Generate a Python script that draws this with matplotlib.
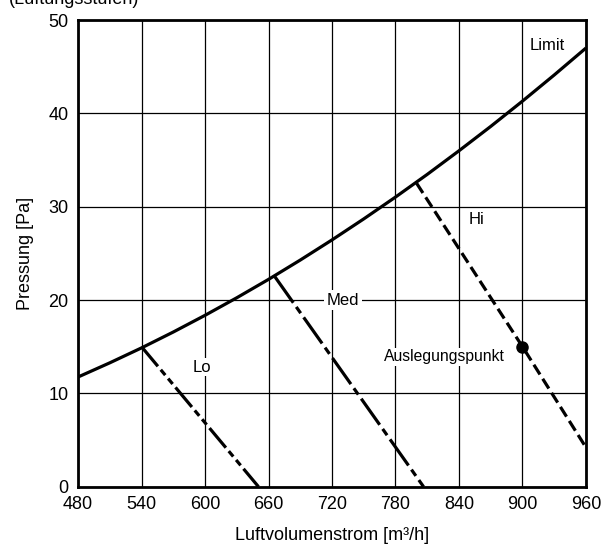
import matplotlib
matplotlib.use("Agg")
import matplotlib.pyplot as plt

plt.rcParams['font.family'] = ['Liberation Sans', 'DejaVu Sans']

# Limit curve (airflow m³/h, pressure Pa)
limit_q = [480, 510, 540, 570, 600, 630, 660, 690, 720, 750, 780, 810, 840, 870, 900, 930, 960]
limit_p = [11.75, 13.27, 14.87, 16.57, 18.36, 20.24, 22.21, 24.28, 26.44, 28.69,
           31.03, 33.46, 35.99, 38.6, 41.31, 44.11, 47.0]

# Fan stage characteristics
lo_q = [540, 650.5]
lo_p = [15.0, 0.0]
med_q = [666, 806.5]
med_p = [22.5, 0.0]
hi_q = [800, 900, 960]
hi_p = [32.5, 15.0, 4.2]

# Design point
design_q = [900]
design_p = [15.0]

x_ticks = [480, 540, 600, 660, 720, 780, 840, 900, 960]
y_ticks = [0, 10, 20, 30, 40, 50]

fig = plt.figure(figsize=(6.02, 5.51), dpi=100)
ax = fig.add_axes([0.1296, 0.1167, 0.8438, 0.847])

ax.set_xlim(480, 960)
ax.set_ylim(0, 50)
ax.set_xticks(x_ticks)
ax.set_yticks(y_ticks)
ax.tick_params(length=0, pad=7, labelsize=13)
ax.grid(True, color='black', linewidth=0.9)
ax.set_axisbelow(True)
for s in ax.spines.values():
    s.set_linewidth(2.0)

lw = 2.3
ax.plot(limit_q, limit_p, color='black', linewidth=lw, solid_capstyle='butt', zorder=3)
ax.plot(lo_q, lo_p, color='black', linewidth=lw,
        linestyle=(0, (8, 1.4, 2.2, 1.4, 2.2, 1.4)), zorder=3)
ax.plot(med_q, med_p, color='black', linewidth=lw,
        linestyle=(0, (10, 1.6, 2.4, 1.6)), zorder=3)
ax.plot(hi_q, hi_p, color='black', linewidth=lw,
        linestyle=(0, (3.6, 1.6)), zorder=3)
ax.plot(design_q, design_p, 'o', color='black', markersize=8, zorder=4)

lbl = dict(fontsize=12, ha='center', va='center', zorder=5)
ax.text(923, 47.3, 'Limit', **lbl)
ax.text(597, 12.8, 'Lo', bbox=dict(facecolor='white', edgecolor='none', pad=1), **lbl)
ax.text(730, 20.0, 'Med', bbox=dict(facecolor='white', edgecolor='none', pad=2), **lbl)
ax.text(857, 28.6, 'Hi', **lbl)
ax.text(826, 13.9, 'Auslegungspunkt', fontsize=11.3, ha='center', va='center', zorder=5,
        bbox=dict(facecolor='white', edgecolor='none', pad=1))

ax.set_xlabel('Luftvolumenstrom [m³/h]', fontsize=13, labelpad=10)
ax.set_ylabel('Pressung [Pa]', fontsize=13, labelpad=10)

fig.text(0.015, 1.0, '(Lüftungsstufen)', fontsize=13, ha='left', va='center')

fig.savefig('out.png', dpi=100)
